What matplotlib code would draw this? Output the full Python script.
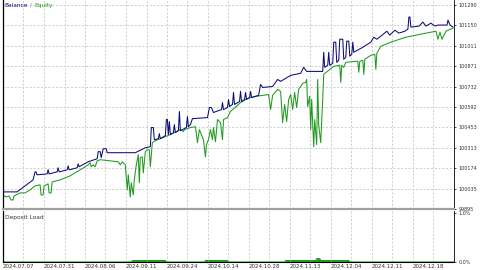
import matplotlib.pyplot as plt
import numpy as np

# Balance curve (deal index, account value)
bal_x = [0, 14, 30, 32, 33, 34, 44, 45, 46, 54, 55, 56, 64, 65, 66, 74, 75, 76, 85, 94,
         95, 97, 98, 100, 103, 104, 132, 142, 147, 148, 150, 151, 155, 156, 157, 162, 163, 164,
         165, 166, 167, 170, 171, 172, 175, 176, 177, 183, 184, 185, 187, 189, 204, 206, 208,
         210, 218, 219, 220, 224, 225, 226, 229, 230, 231, 236, 237, 238, 241, 242, 243, 246,
         247, 248, 255, 257, 259, 269, 274, 277, 287, 297, 300, 303, 319, 320, 321, 324, 325,
         326, 329, 330, 332, 333, 335, 336, 339, 340, 342, 343, 345, 346, 348, 349, 350, 359,
         367, 370, 373, 377, 383, 386, 391, 395, 401, 404, 405, 406, 407, 415, 419, 422, 427,
         431, 434, 443, 444, 446, 449]
bal_y = [100012, 100012, 100094, 100149, 100149, 100129, 100135, 100163, 100135, 100149,
         100177, 100149, 100163, 100190, 100163, 100177, 100204, 100184, 100218, 100239,
         100287, 100287, 100246, 100307, 100307, 100280, 100280, 100314, 100321, 100452,
         100452, 100369, 100376, 100410, 100376, 100397, 100507, 100507, 100404, 100493,
         100404, 100417, 100472, 100417, 100431, 100562, 100431, 100452, 100527, 100458,
         100472, 100513, 100520, 100589, 100589, 100555, 100575, 100623, 100575, 100589,
         100644, 100596, 100610, 100692, 100610, 100630, 100699, 100630, 100644, 100692,
         100644, 100658, 100699, 100658, 100672, 100747, 100726, 100733, 100781, 100768,
         100809, 100823, 100864, 100836, 100836, 100967, 100864, 100878, 100967, 100878,
         100891, 101036, 101036, 100898, 100912, 101056, 101056, 100919, 100933, 101043,
         101043, 100940, 100953, 101036, 100967, 101001, 101036, 101070, 101056, 101077,
         101111, 101084, 101118, 101098, 101111, 101125, 101208, 101208, 101139, 101146,
         101173, 101146, 101166, 101146, 101153, 101153, 101187, 101153, 101139]

# Equity curve
eq_x = [0, 3, 6, 8, 10, 11, 17, 22, 27, 32, 37, 38, 40, 41, 45, 46, 48, 49, 57, 67, 77,
        85, 87, 88, 90, 92, 94, 97, 115, 117, 119, 122, 124, 125, 127, 128, 130, 131, 133,
        135, 136, 137, 139, 140, 142, 144, 146, 147, 149, 152, 157, 167, 177, 180, 181, 187,
        192, 194, 196, 200, 202, 203, 205, 207, 209, 210, 212, 214, 217, 219, 220, 224, 227,
        237, 244, 252, 265, 267, 269, 274, 277, 279, 281, 283, 285, 287, 289, 291, 293, 295,
        299, 302, 303, 304, 306, 307, 308, 310, 311, 313, 314, 315, 317, 319, 320, 330, 336,
        337, 338, 340, 342, 352, 354, 355, 356, 359, 360, 361, 367, 371, 372, 373, 377, 387,
        402, 417, 432, 434, 436, 438, 440, 442, 449]
eq_y = [99991, 99977, 99984, 99957, 99957, 99984, 100005, 100005, 100026, 100053, 100060,
        99991, 99991, 100053, 100067, 100005, 100005, 100080, 100094, 100122, 100163,
        100197, 100211, 100184, 100197, 100184, 100225, 100232, 100218, 100197, 100218,
        100197, 100026, 100129, 99977, 100074, 99991, 100094, 100197, 100266, 100074,
        100246, 100252, 100142, 100287, 100300, 100300, 100184, 100349, 100362, 100376,
        100404, 100438, 100424, 100438, 100452, 100458, 100349, 100438, 100369, 100252,
        100335, 100369, 100438, 100369, 100452, 100355, 100507, 100486, 100369, 100507,
        100520, 100562, 100623, 100651, 100665, 100678, 100575, 100672, 100713, 100699,
        100486, 100610, 100493, 100644, 100678, 100575, 100692, 100589, 100713, 100754,
        100761, 100781, 100596, 100665, 100438, 100644, 100321, 100507, 100335, 100781,
        100472, 100349, 100644, 100816, 100871, 100878, 100761, 100878, 100864, 100898,
        100905, 100905, 100830, 100905, 100912, 100816, 100919, 100946, 100953, 100850,
        100960, 101008, 101036, 101070, 101091, 101111, 101056, 101104, 101056, 101084,
        101111, 101132]

# Deposit load (%)
load_x = [0, 128, 129, 162, 163, 201, 202, 224, 225, 281, 282, 312, 313, 316, 317, 345, 346, 450]
load_y = [0, 0, 0.03, 0.03, 0, 0, 0.03, 0.03, 0, 0, 0.03, 0.03, 0.07, 0.07, 0.03, 0.03, 0, 0]

y_ticks = [101290, 101150, 101011, 100871, 100732, 100592, 100453, 100313, 100174, 100035, 99895]
date_labels = ["2024.07.07", "2024.07.31", "2024.08.06", "2024.09.11", "2024.09.24",
               "2024.10.14", "2024.10.28", "2024.11.13", "2024.12.04", "2024.12.11",
               "2024.12.18"]

W, H = 480, 270
fig = plt.figure(figsize=(W / 100, H / 100), dpi=100)
fig.patch.set_facecolor("white")

grid_kw = dict(color="#c8c8c8", linestyle=(0, (2.5, 2)), linewidth=0.6)
x_max = 450
grid_step = x_max / 22

ax = fig.add_axes([3 / W, (H - 209) / H, 451 / W, 209 / H])
ax2 = fig.add_axes([3 / W, (H - 262) / H, 451 / W, 51 / H])

ax.plot(eq_x, eq_y, color="#1f9a1f", linewidth=0.75)
ax.plot(bal_x, bal_y, color="#0c0c78", linewidth=0.75)
ax.set_xlim(0, x_max)
ax.set_ylim(99895, 101290 + 5 * 6.872)

ax.set_xticks(np.arange(0, x_max, grid_step))
ax.set_xticklabels([])
ax.set_yticks(y_ticks)
ax.yaxis.tick_right()
ax.set_yticklabels([str(v) for v in y_ticks], fontsize=3.5, color="#333333")
ax.tick_params(axis="y", length=1.5, width=0.5, pad=2)
ax.tick_params(axis="x", length=0)
ax.grid(True, **grid_kw)
ax.spines["top"].set_visible(False)
ax.spines["bottom"].set_color("#a0a0a0")
ax.spines["bottom"].set_linewidth(1.6)
ax.spines["left"].set_linewidth(0.9)
ax.spines["right"].set_linewidth(0.6)

ax.text(0.004, 0.988, "Balance", transform=ax.transAxes, fontsize=4.2, color="#0c0c78",
        ha="left", va="top")
ax.text(0.059, 0.988, "/", transform=ax.transAxes, fontsize=4.2, color="#888888",
        ha="left", va="top")
ax.text(0.069, 0.988, "Equity", transform=ax.transAxes, fontsize=4.2, color="#1f9a1f",
        ha="left", va="top")

ax2.fill_between(load_x, 0, load_y, color="#1f9a1f", linewidth=0)
ax2.plot(load_x, load_y, color="#1f9a1f", linewidth=0.8)
ax2.set_xlim(0, x_max)
ax2.set_ylim(0, 1.05)
ax2.set_xticks(np.arange(0, x_max, grid_step * 2))
ax2.set_xticks(np.arange(0, x_max, grid_step), minor=True)
ax2.grid(True, axis="x", which="both", **grid_kw)
ax2.set_xticklabels(date_labels, fontsize=4, ha="left", color="#333333")
ax2.tick_params(axis="x", which="both", length=0, pad=1.5)
ax2.set_yticks([0, 1.0])
ax2.yaxis.tick_right()
ax2.set_yticklabels(["0.0%", "1.0%"], fontsize=3.5, color="#333333")
ax2.tick_params(axis="y", length=1.5, width=0.5, pad=2)
ax2.spines["top"].set_visible(False)
ax2.spines["bottom"].set_linestyle((0, (1, 1)))
ax2.spines["bottom"].set_linewidth(0.8)
ax2.spines["left"].set_linewidth(0.9)
ax2.spines["right"].set_linewidth(0.6)
ax2.text(0.004, 0.93, "Deposit Load", transform=ax2.transAxes, fontsize=4.2,
         color="#333333", ha="left", va="top")

fig.savefig("out.png", dpi=100)
plt.close(fig)
